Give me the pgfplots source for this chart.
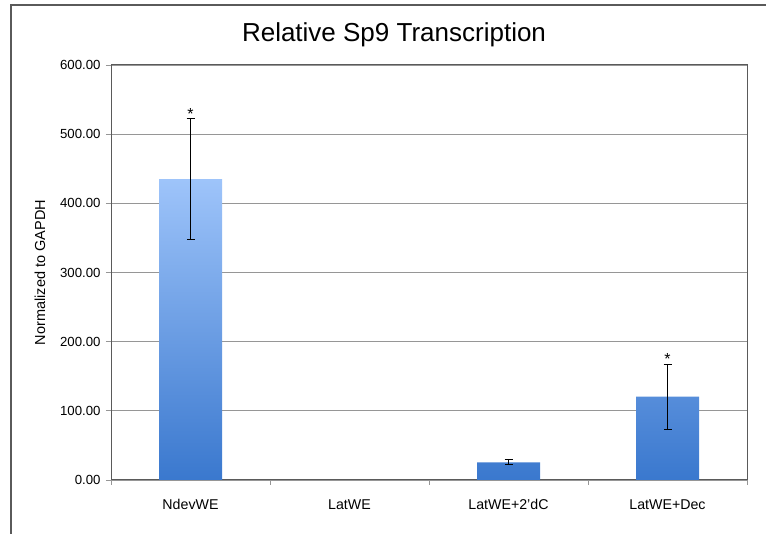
\documentclass[border=0pt]{standalone}
\usepackage{pgfplots}
\pgfplotsset{compat=1.18}
\usepackage{fontspec}
\setmainfont{Liberation Sans}
\definecolor{bartop}{RGB}{158,196,250}
\definecolor{barbot}{RGB}{58,120,206}
\definecolor{gridc}{RGB}{150,150,150}
\definecolor{framec}{RGB}{90,90,90}
\begin{document}
\begin{tikzpicture}[x=1pt,y=1pt]
\useasboundingbox (0,0) rectangle (766,533);
\draw[framec, line width=1.3pt] (11,-5)--(11,528)--(775,528);
\node[anchor=base, font=\fontsize{26}{30}\selectfont] at (394,491) {Relative Sp9 Transcription};
\begin{axis}[
  at={(111pt,53pt)}, anchor=south west,
  scale only axis, width=636pt, height=415pt,
  xmin=-0.5, xmax=3.5, ymin=0, ymax=600,
  ytick={0,100,...,600},
  xtick={0,1,2,3},
  xticklabels={NdevWE, LatWE, LatWE+2'dC, LatWE+Dec},
  minor xtick={-0.5,0.5,1.5,2.5,3.5},
  major x tick style={draw=none},
  tick align=outside, tick pos=left,
  major tick length=5pt, minor tick length=5pt,
  tick style={draw=gridc, line width=0.8pt},
  ymajorgrids, grid style={draw=gridc, line width=0.8pt},
  axis line style={draw=framec, line width=1pt},
  /pgf/number format/assume math mode=true,
  yticklabel={\pgfmathprintnumber[fixed, fixed zerofill, precision=2, 1000 sep={}]{\tick}},
  yticklabel style={font=\fontsize{13.2}{15}\selectfont, xshift=-2pt},
  xticklabel style={font=\fontsize{14.2}{16}\selectfont, yshift=-11pt},
  ylabel={Normalized to GAPDH},
  ylabel style={font=\fontsize{14.5}{16}\selectfont, at={(axis description cs:-0.1116,0.5)}, anchor=center},
]
\addplot[ybar, bar width=63pt, draw=none, top color=bartop, bottom color=barbot,
  error bars/.cd, y dir=both, y explicit,
  error bar style={black, line width=1pt},
  error mark options={black, rotate=90, mark size=4pt, line width=1pt}]
  coordinates {(0,435) +- (0,87) (2,25.5) +- (0,3.7) (3,120.5) +- (0,46.8)};
\addplot[draw=none, nodes near coords, point meta=explicit symbolic,
  every node near coord/.append style={font=\fontsize{16}{18}\selectfont, anchor=south, yshift=-4pt}]
  coordinates {(0,522) [*] (3,167.3) [*]};
\end{axis}
\end{tikzpicture}
\end{document}
